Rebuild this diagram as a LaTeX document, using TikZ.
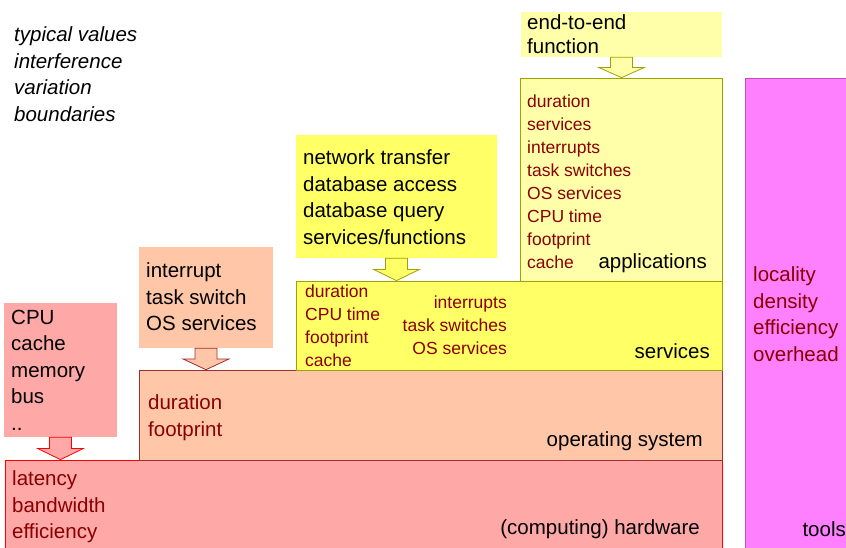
\documentclass[tikz,border=0pt]{standalone}
\usepackage{fontspec}
\setmainfont{Liberation Sans}
\usetikzlibrary{calc}

\definecolor{hwfill}{HTML}{FFA8A8}
\definecolor{osfill}{HTML}{FFC6A8}
\definecolor{svcfill}{HTML}{FFFF66}
\definecolor{appfill}{HTML}{FFFFAA}
\definecolor{toolfill}{HTML}{FF80FF}
\definecolor{osline}{HTML}{A03030}
\definecolor{svcline}{HTML}{A0A000}
\definecolor{toolline}{HTML}{C050C0}
\definecolor{attrred}{HTML}{8A0000}

\tikzset{
  layer/.style={draw, line width=0.8pt, inner sep=0pt},
  infobox/.style={inner sep=0pt},
  bigtext/.style={font=\fontsize{20.5}{26.5}\selectfont, align=left, inner sep=0pt, anchor=north west},
  attrtext/.style={bigtext, text=attrred},
  smallattr/.style={attrtext, font=\fontsize{17.5}{23}\selectfont},
  layername/.style={font=\fontsize{20.5}{24}\selectfont, inner sep=0pt, anchor=east},
  blockarrow/.style={line width=0.8pt, line join=miter}
}

\newcommand{\blockdown}[3][]{%
  \draw[blockarrow,#1] let \p1=(#2.south), \p2=(#3.north) in
    (\x1-11pt,\y1) -- (\x1+11pt,\y1) -- (\x1+11pt,{(\y1+\y2)/2}) -- (\x1+23pt,{(\y1+\y2)/2})
    -- (\x1,\y2) -- (\x1-23pt,{(\y1+\y2)/2}) -- (\x1-11pt,{(\y1+\y2)/2}) -- cycle;}

\begin{document}
\begin{tikzpicture}[x=1pt,y=-1pt]
\useasboundingbox (0,0) rectangle (846,547);

\coordinate (HW) at (363.5,510);
\coordinate (OS) at (430.5,415);
\coordinate (SV) at (509,325.5);
\coordinate (AP) at (621,179.5);
\coordinate (TL) at (807.5,324);
\coordinate (HWin) at (60.5,370);
\coordinate (OSin) at (206,297.5);
\coordinate (SVin) at (396.5,196.5);
\coordinate (APin) at (621.5,34.5);

\node[layer, draw=red, fill=hwfill, minimum width=717pt, minimum height=100pt] (hw) at (HW) {};
\node[layer, draw=osline, fill=osfill, minimum width=583pt, minimum height=90pt, line width=0.6pt] (os) at (OS) {};
\node[layer, draw=svcline, fill=svcfill, minimum width=426pt, minimum height=89pt] (svc) at (SV) {};
\node[layer, draw=svcline, fill=appfill, minimum width=202pt, minimum height=203pt] (app) at (AP) {};
\node[layer, draw=toolline, fill=toolfill, minimum width=125pt, minimum height=492pt] (tools) at (TL) {};

\node[infobox, fill=hwfill, minimum width=113pt, minimum height=134pt] (hwin) at (HWin) {};
\node[infobox, fill=osfill, minimum width=134pt, minimum height=101pt] (osin) at (OSin) {};
\node[infobox, fill=svcfill, minimum width=201pt, minimum height=123pt] (svcin) at (SVin) {};
\node[infobox, fill=appfill, minimum width=201pt, minimum height=45pt] (appin) at (APin) {};

\blockdown[draw=red, fill=hwfill]{hwin}{hw}
\blockdown[draw=osline, fill=osfill]{osin}{os}
\blockdown[draw=svcline, fill=svcfill]{svcin}{svc}
\blockdown[draw=svcline, fill=appfill]{appin}{app}

\node[bigtext, font=\itshape\fontsize{20.5}{26.5}\selectfont] (legend) at (14,26.6)
  {typical values\\interference\\variation\\boundaries};

\node[bigtext, font=\fontsize{20.5}{24}\selectfont] (e2e) at (527,14.6) {end-to-end\\function};
\node[smallattr] (appattr) at (527,94.6)
  {duration\\services\\interrupts\\task switches\\OS services\\CPU time\\footprint\\cache};
\node[layername] (appname) at (707,263) {applications};

\node[bigtext] (svcitems) at (303,149.6)
  {network transfer\\database access\\database query\\services/functions};
\node[smallattr] (svcattr) at (305,284.6) {duration\\CPU time\\footprint\\cache};
\node[smallattr, anchor=north east, align=right] (svcos) at (507,295.6)
  {interrupts\\task switches\\OS services};
\node[layername] (svcname) at (710,351) {services};

\node[bigtext] (ositems) at (146,262.6) {interrupt\\task switch\\OS services};
\node[attrtext] (osattr) at (148,394.6) {duration\\footprint};
\node[layername] (osname) at (703,441) {operating system};

\node[bigtext] (hwitems) at (11,309.6) {CPU\\cache\\memory\\bus\\..};
\node[attrtext] (hwattr) at (12,470.6) {latency\\bandwidth\\efficiency};
\node[layername] (hwname) at (700,529.5) {(computing) hardware};

\node[attrtext] (toolattr) at (753,266.6) {locality\\density\\efficiency\\overhead};
\node[layername] (toolname) at (846,529.5) {tools};

\end{tikzpicture}
\end{document}
